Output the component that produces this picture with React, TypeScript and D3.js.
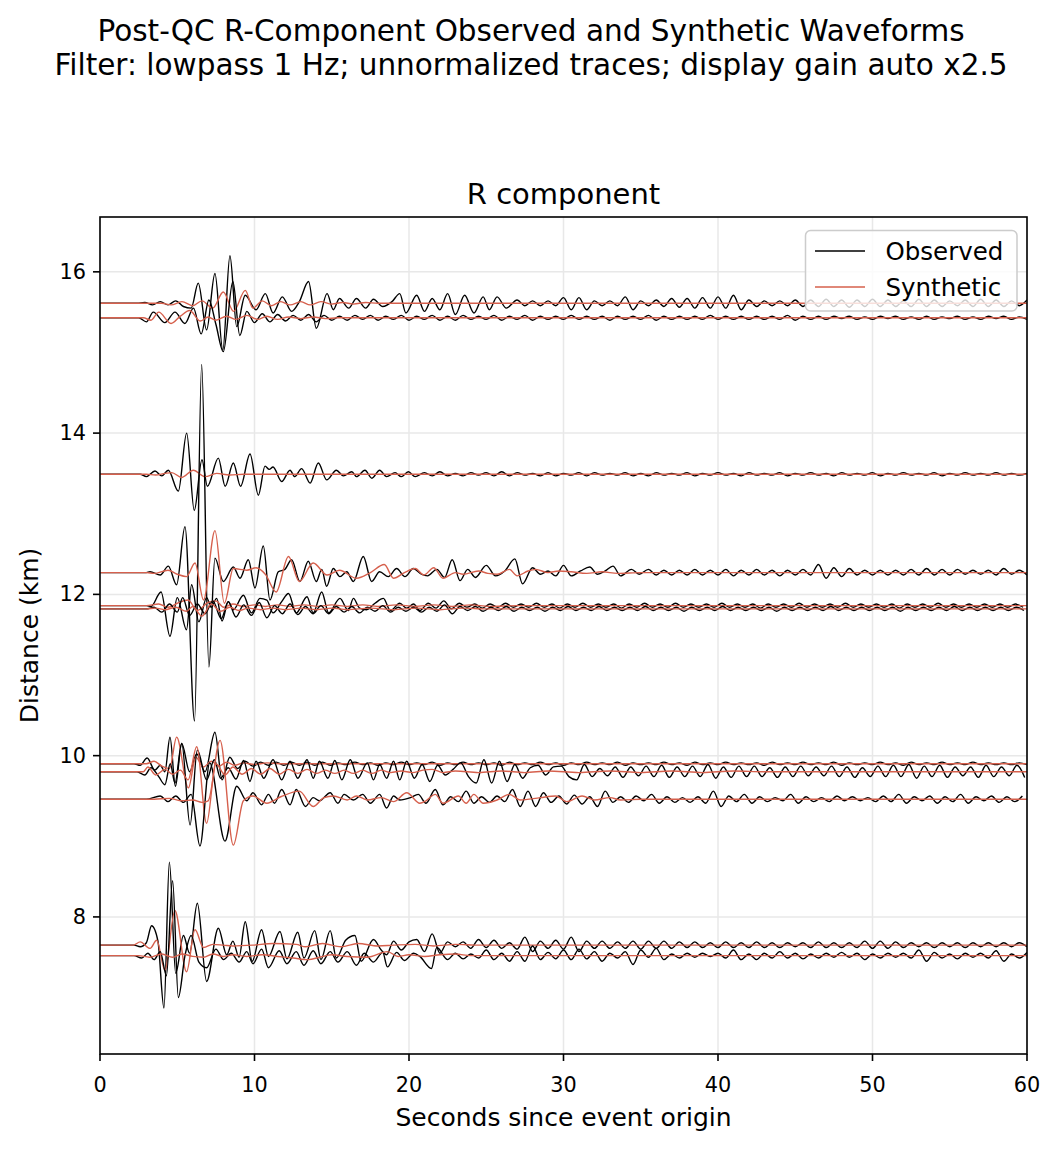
import React from "react";
import * as d3 from "d3";

type Pt = [number, number];

// distances (km) of the trace baselines
const distances = [15.61, 15.43, 13.49, 12.27, 11.86, 11.82, 9.9, 9.8, 9.46, 7.65, 7.52];
const xTicks = [0, 10, 20, 30, 40, 50, 60];
const yTicks = [8, 10, 12, 14, 16];
// amplitudes below are in hundredths of a km, times in seconds

const obs_1561: Pt[] = [[2.4,0],[2.9,1],[3.4,-2],[3.9,2],[4.4,-2],[4.9,3],[5.4,-4],[5.9,-6],[6.36,25],[6.9,-33],[7.44,37],[7.95,-58],[8.41,59],[8.85,-29],[9.4,10],[10.1,-8],[10.7,12],[11.2,-12],[11.8,8],[12.4,-10],[12.9,2],[13.5,27],[14.0,-31],[14.7,12],[15.1,-8],[15.5,6],[16.1,-6],[16.6,6],[17.2,-6],[17.7,5],[18.3,-4],[18.9,2],[19.4,12],[19.8,-12],[20.5,10],[21.0,-10],[21.5,6],[22.0,-8],[22.5,12],[23.0,-14],[23.6,10],[24.2,-12],[24.8,8],[25.2,-8],[25.7,8],[26.3,-6],[27.0,4]];
const coda_1561 = [-3,3,-3,3,-3,7,-8,7,-8,3,-3,3,-3,8,-8,3,-3,4,-4,6,-5,6,-6,7,-6,8,-6,10,-8,4,-4,3,-3,3,-3,4,-4,4,-4,5,-4,4,-5,4,-4,5,-4,4,-4,3,-4,5,-4,4,-4,3,-3,4,-4,5,-4,4,-4,3,-3,4,-3,3];
const syn_1561: Pt[] = [[4.0,0],[4.6,-2],[5.3,2],[6.0,-3],[6.6,3],[7.3,-6],[7.98,14],[8.65,-10],[9.4,16],[9.9,-6],[10.5,3],[11.1,-3],[11.7,2],[12.3,-2],[13.0,2],[13.6,-2],[14.3,2],[15.0,-1],[15.7,1],[16.4,-1],[17.2,1],[18.0,0],[60,0]];

const obs_1543: Pt[] = [[2.5,0],[3.0,-5],[3.45,7],[4.2,-6],[4.85,7],[5.5,-7],[6.05,12],[6.55,-20],[7.05,22],[7.5,-8],[7.98,-42],[8.6,45],[9.05,-22],[9.5,8],[10.0,-6],[10.5,5],[11.0,-5],[11.5,4],[12.0,-4],[12.5,3],[13.0,-3],[13.5,4],[14.0,-5],[14.5,3],[15.0,-3],[15.5,2],[16.0,-3],[16.5,3],[17.0,-2],[17.5,3],[18.0,-3],[18.5,2],[19.0,-2],[19.5,3],[20.0,-3],[20.5,2],[21.0,-2]];
const coda_1543 = [3,-3,2,-3,3,-2,2,-2,3,-3,2,-2,3,-3,2,-2,2,-2,3,-2,2,-2,2,-3,2,-2,2,-2,3,-3,2,-2,2,-2,2,-2,3,-2,2,-2,2,-2,2,-2,2,-2,3,-3,2,-2,2,-2,2,-1,2,-2,1,-2,2,-1,2,-2,1,-2,2,-2,1,-1,2,-2,1,-2,2,-1,2,-2,1,-2,2,-1];
const syn_1543: Pt[] = [[2.8,0],[3.3,-3],[3.8,7],[4.6,-7],[5.2,2],[5.8,9],[6.5,-4],[7.0,1],[7.5,-3],[8.2,2],[8.8,-2],[9.5,3],[10.2,-2],[10.8,2],[11.5,-2],[12.2,1],[13.0,-1],[13.8,1],[14.6,-1],[15.4,0],[60,0]];

const obs_1349: Pt[] = [[2.6,0],[3.0,-3],[3.56,4],[4.0,-2],[4.42,5],[5.07,-21],[5.61,51],[6.1,-45],[6.6,18],[6.95,-15],[7.66,20],[8.1,-15],[8.63,14],[9.1,-15],[9.71,25],[10.25,-26],[10.68,10],[10.95,6],[11.2,9],[11.76,-9],[12.3,5],[12.6,-3],[13.05,7],[13.6,-11],[14.13,14],[14.67,-7],[15.3,5],[15.75,-2],[16.3,3],[16.6,-3],[17.15,5],[17.6,-5],[18.1,5],[18.55,-3],[19.1,2],[19.5,-3],[19.96,3],[20.4,-3],[21.0,2]];
const coda_1349 = [-2,3,-2,1,-2,2,-1,2,-2,3,-2,2,-1,1,-2,2,-2,1,-1,2,-2,2,-1,1,-1,2,-2,1,-2,2,-1,1,-1,2,-2,1,-1,2,-1,1,-2,2,-1,1,-1,2,-2,1,-1,2,-1,1,-2,2,-1,1,-1,2,-2,1,-1,2,-1,1,-1,2,-2,1,-1,2,-1,1,-1,2,-1,1,-1,1,-1,1];
const syn_1349: Pt[] = [[3.0,0],[3.6,-1],[4.2,1],[4.64,2],[5.29,-4],[6.04,5],[6.8,-3],[7.55,1],[8.4,-1],[9.3,0],[60,0]];

const obs_1227: Pt[] = [[3.0,0],[3.24,1],[3.9,-3],[4.42,8],[4.96,-15],[5.5,57],[6.12,-184],[6.58,258],[7.05,-117],[7.44,18],[7.98,-11],[8.63,7],[9.06,-7],[9.6,16],[10.03,-19],[10.57,33],[11.0,-34],[11.54,1],[11.97,4],[12.4,16],[12.94,-11],[13.48,14],[14.0,-11],[14.35,4],[14.67,-17],[15.1,5],[15.53,-5],[15.97,1],[16.4,-11],[17.04,20],[17.58,-11],[18.1,1],[18.66,-5],[19.2,5],[19.74,-5],[20.28,5],[20.8,-2],[21.2,-4],[21.8,4],[22.3,-6],[22.8,16],[23.3,-10],[23.8,4],[24.3,-6],[25.0,9],[25.6,-4],[26.2,2],[26.85,17],[27.35,-14],[28.0,6],[28.5,-2],[29.0,2],[29.5,-4],[30.0,9],[30.5,-4],[31.1,2],[31.7,7],[32.2,-2],[32.7,2],[33.2,8],[33.7,-4],[34.4,4],[34.9,-2]];
const coda_1227 = [4,-3,3,-3,3,-3,4,-3,3,-3,4,-4,3,-3,4,-3,3,-4,3,-3,4,-3,10,-7,6,-5,5,-3,3,-3,3,-3,3,-3,4,-3,5,-3,4,-3,4,-2,3,-2,3,-3,5,-2,3,-3,2];
const syn_1227: Pt[] = [[3.0,0],[3.5,-1],[4.4,3],[5.0,-2],[5.6,-5],[6.15,12],[6.7,-34],[7.44,52],[8.05,-38],[8.63,5],[9.5,3],[10.1,6],[10.7,-2],[11.4,-24],[12.2,20],[12.9,-11],[13.8,12],[14.7,-3],[15.5,3],[16.6,-7],[17.5,0],[18.4,10],[19.0,-7],[19.7,0],[20.4,5],[20.96,-3],[21.6,6],[22.2,-7],[23.0,0],[23.5,-2],[24.5,2],[25.1,-1],[25.7,-2],[26.5,4],[27.0,-4],[27.7,2],[28.2,4],[29.0,0],[29.7,2],[30.5,1],[31.5,-1],[32.5,1],[33.5,-1],[35,0],[60,0]];

const obs_1186: Pt[] = [[3.0,0],[3.3,-1],[3.95,17],[4.53,-38],[5.0,10],[5.6,-30],[5.93,26],[6.4,-20],[6.9,10],[7.2,-2],[7.55,9],[7.9,-19],[8.3,5],[8.63,-5],[9.28,13],[9.8,-9],[10.35,9],[10.8,7],[11.2,-9],[11.76,5],[12.2,15],[12.7,-9],[13.4,11],[13.8,-9],[14.35,17],[14.8,-9],[15.53,9],[16.07,-6],[16.4,9],[16.8,-3],[17.26,-5],[17.8,3],[18.34,9],[18.8,-6],[19.4,3],[19.85,-3],[20.3,2],[20.7,-6],[21.25,3]];
const coda_1186 = [-3,6,-4,3,-2,2,-3,2,-2,3,-2,2,-2,3,-2,2,-3,2,-2,3,-2,2,-2,2,-3,2,-2,3,-2,2,-2,3,-2,2,-2,2,-2,3,-2,2,-2,2,-3,2,-2,2,-2,3,-2,2,-2,2,-2,3,-2,2,-2,2,-2,2,-3,2,-2,2,-2,3,-2,2,-2,2,-2,2,-2,2,-2,2,-2,2];
const syn_1186: Pt[] = [[3.0,0],[3.8,2],[4.4,-2],[5.0,3],[5.7,7],[6.3,-6],[7.0,4],[7.5,6],[8.0,-2],[8.6,2],[9.3,-1],[10,1],[10.7,-1],[11.5,1],[12.3,-1],[13.2,1],[14.1,-1],[15,1],[16,-1],[17,1],[18,-1],[19.2,1],[20.4,-1],[21.6,1],[22.8,-1],[24,1],[25.2,-1],[27,0],[60,0]];

const obs_1182: Pt[] = [[3.0,0],[3.5,2],[4.0,-4],[4.5,6],[5.0,-4],[5.35,14],[5.8,-8],[6.3,6],[6.8,-6],[7.3,10],[7.85,-12],[8.3,9],[8.8,-10],[9.3,5],[9.8,-8],[10.3,8],[10.8,-11],[11.3,4],[11.8,-6],[12.3,6],[12.8,-7],[13.3,3],[13.8,-6],[14.3,4],[14.8,-6],[15.3,3],[15.8,-4],[16.3,3],[16.8,-5],[17.3,2],[17.8,-3],[18.3,4],[18.8,-4],[19.3,2],[19.8,-3],[20.3,2],[20.8,-4],[21.3,2]];
const coda_1182 = [-3,5,-6,3,-2,3,-3,2,-2,3,-3,2,-2,2,-3,2,-2,3,-2,2,-2,3,-2,2,-2,2,-2,3,-2,2,-2,2,-3,2,-2,2,-2,3,-2,2,-2,2,-2,2,-3,2,-2,2,-2,2,-2,3,-2,2,-2,2,-2,2,-2,2,-3,2,-2,2,-2,2,-2,3,-2,2,-2,2,-2,2,-2,2,-2,2];
const syn_1182: Pt[] = [[3.0,0],[3.6,1],[4.2,-1],[4.9,2],[5.6,-3],[6.0,3],[6.6,-9],[7.2,6],[7.8,-3],[8.4,2],[9.0,-2],[9.6,1],[10.4,-1],[11.2,1],[12,-1],[13,1],[14,-1],[15,1],[16,-1],[17.5,1],[19,-1],[20.5,1],[22,-1],[23.5,1],[25,0],[60,0]];

const obs_990: Pt[] = [[2.2,0],[2.6,-2],[3.05,7],[3.55,-8],[3.9,-2],[4.2,-10],[4.53,33],[4.88,-28],[5.29,25],[5.8,-10],[6.26,12],[6.8,-10],[7.44,39],[7.9,-20],[8.4,8],[8.9,-6],[9.4,3],[9.9,-3],[10.4,2],[10.9,-2],[11.4,2],[11.9,-2],[12.4,2],[12.9,-2],[13.4,2],[13.9,-2],[14.4,2],[14.9,-2],[15.4,1],[15.9,-1]];
const coda_990 = [2,-1,1,-2,1,-1,2,-1,1,-1,2,-2,1,-1,2,-1,1,-1,1,-2,2,-1,1,-1,2,-1,1,-2,1,-1,2,-1,1,-1,2,-2,1,-1,1,-1,2,-1,1,-2,2,-1,1,-1,2,-1,1,-1,1,-2,2,-1,1,-1,2,-1,1,-1,2,-2,1,-1,1,-1,2,-1,1,-2,2,-1,1,-1,2,-1,1,-1,2,-1,1,-1,1,-1,1,-1];
const syn_990: Pt[] = [[3.0,0],[3.5,3],[4.0,-3],[4.5,-6],[4.96,33],[5.72,-30],[6.2,8],[6.7,-4],[7.2,3],[7.7,-3],[8.2,2],[8.7,-2],[9.3,1],[10,-1],[10.8,1],[11.6,0],[60,0]];

const obs_980: Pt[] = [[2.4,0],[2.9,-4],[3.3,5],[3.8,-6],[4.2,-16],[4.55,10],[4.85,-14],[5.29,35],[5.83,-66],[6.3,27],[6.9,-10],[7.4,15],[7.8,-8],[8.3,5],[8.8,-9],[9.3,14],[9.7,-12],[10.1,13],[10.6,-8],[11.2,15],[11.76,-10],[12.3,13],[12.8,-8],[13.4,15],[13.8,-8],[14.2,13],[14.75,-8],[15.2,14],[15.65,-10],[16.2,15],[16.7,-8],[17.3,11],[17.7,-10],[18.1,9],[18.55,-8],[19.0,13],[19.4,-10],[19.85,13],[20.35,-8]];
const coda_980 = [9,-12,8,-4,3,11,-6,-14,15,-14,13,-12,9,-8,5,8,-4,6,7,-6,-10,9,-6,4,-5,6,-7,6,-5,7,-6,8,-7,6,-6,7,-6,9,-8,6,-7,7,-6,7,-6,5,-7,6,-6,7,-5,6,-5,7,-6,6,-7,5,-6,7,-6,8,-6,9,-8,7,-6,8,-7,6,-5,6,-7,8,-6,6,-5,8,-7,6];
const syn_980: Pt[] = [[2.8,0],[3.1,6],[3.6,-4],[4.2,3],[4.7,-3],[5.2,2],[5.7,-10],[6.26,31],[6.9,-64],[7.5,10],[8.1,-4],[8.6,6],[9.2,-3],[9.8,4],[10.4,-3],[11.0,4],[11.6,-3],[12.2,3],[12.8,-2],[13.4,3],[14,-2],[14.6,2],[15.2,-2],[15.8,2],[16.4,-2],[17,2],[17.6,-2],[18.2,2],[18.8,-1],[19.5,1],[20.2,-1],[20.9,2],[21.5,3],[22.2,-1],[23,1],[24.5,-1],[26,1],[27.5,-1],[29,1],[31,-1],[33,1],[35,-1],[37,1],[39,-1],[41,1],[43,0],[60,0]];

const obs_946: Pt[] = [[3.0,0],[3.9,4],[4.4,-3],[4.9,4],[5.4,-4],[5.9,6],[6.47,-58],[7.1,45],[8.09,-52],[8.85,16],[9.5,-2],[9.9,8],[10.46,-7],[10.9,6],[11.3,-5],[11.76,12],[12.3,-7],[12.7,12],[13.3,-9],[13.8,2],[14.2,-2],[14.9,8],[15.4,-5],[15.8,6],[16.4,-1],[17.0,6],[17.5,-5],[18.1,6],[18.55,-11],[19.0,4],[19.4,-1],[20.1,2],[20.6,6],[21.1,-5]];
const coda_946 = [12,-7,3,-3,10,-5,3,-4,4,-3,12,-9,10,-9,8,-4,4,-6,5,-6,3,-9,10,-4,3,-4,4,-2,6,-5,3,-4,2,-4,3,-5,10,-9,4,-3,6,-5,3,-3,2,-2,6,-5,3,-3,2,-3,4,-2,3,-2,2,-3,4,-3,6,-5,3,-2,4,-5,3,-3,6,-5,3,-2,4,-4,3,-3,4,-3];
const syn_946: Pt[] = [[3.5,0],[4.5,1],[5.3,-2],[6.0,-1],[6.6,-4],[7.0,-2],[7.77,73],[8.63,-57],[9.28,-2],[9.9,4],[10.8,-5],[11.7,3],[12.9,10],[13.8,-9],[14.5,2],[15.1,4],[16.0,-1],[16.6,4],[17.3,-1],[18.2,2],[19.0,-3],[19.85,8],[20.7,-5],[21.1,-2],[21.7,6],[22.2,-5],[23.2,4],[23.7,-5],[24.2,6],[24.8,-5],[25.7,-1],[26.5,6],[27.2,-1],[28.5,2],[29.5,4],[30.2,-3],[31.2,4],[32.0,-1],[33.0,2],[33.7,-1],[35,0],[60,0]];

const obs_765: Pt[] = [[2.2,0],[2.6,-2],[3.0,3],[3.34,24],[3.75,5],[4.14,-78],[4.49,103],[4.9,-35],[5.4,12],[5.8,-10],[6.3,52],[6.9,-45],[7.66,21],[8.2,-12],[8.6,5],[9.0,-15],[9.4,29],[9.85,-20],[10.46,19],[10.9,-14],[11.65,17],[12.1,-17],[12.8,16],[13.2,-16],[13.9,18],[14.3,-18],[14.9,18],[15.3,-16],[15.9,6],[16.5,12],[16.9,-20],[17.7,7],[18.2,-6],[18.55,-12],[19.0,5],[19.5,-6],[20.0,4],[20.5,7],[21.0,-8],[21.5,14]];
const coda_765 = [-10,4,-2,4,-4,7,-3,6,-4,3,-5,10,-8,5,-4,6,-5,10,-8,5,-4,5,-4,4,-4,5,-5,5,-4,5,-4,4,-3,4,-3,3,-3,4,-3,3,-3,4,-3,3,-3,3,-2,3,-3,4,-3,3,-3,3,-3,5,-4,5,-4,4,-3,3,-2,3,-3,3,-2,3,-3,3,-2,3,-2,3,-2,3,-2,3];
const syn_765: Pt[] = [[2.16,0],[2.6,4],[3.24,-4],[3.67,6],[4.2,-31],[4.85,43],[5.6,-33],[6.15,19],[6.7,-3],[7.3,1],[8.0,0],[8.6,-1],[9.9,0],[11.2,2],[12.7,1],[13.3,-2],[14.4,2],[15.6,-2],[16.7,2],[18.0,-1],[19.0,0],[20.4,1],[21.6,-1],[23,1],[24.5,0],[60,0]];

const obs_752: Pt[] = [[2.2,0],[2.7,-3],[3.1,3],[3.5,-5],[3.9,5],[4.3,-25],[4.7,93],[5.07,-52],[5.5,0],[5.9,25],[6.4,-8],[6.9,-15],[7.5,8],[8.0,-5],[8.5,3],[9.0,-8],[9.5,5],[9.9,-10],[10.46,8],[10.9,-15],[11.6,6],[12.1,-10],[12.7,5],[13.2,-12],[13.8,6],[14.3,-10],[14.9,5],[15.4,-8],[16.0,5],[16.6,-12],[17.1,3],[17.7,-8],[18.3,4],[18.6,-14],[19.2,4],[19.7,-6],[20.3,3],[20.7,-1],[21.45,-16],[21.8,10]];
const coda_752 = [-5,3,-4,2,-3,7,-5,3,-7,5,-7,12,-5,4,-4,7,-5,8,-4,5,-7,3,-3,5,-11,7,-2,9,-5,2,-3,3,-2,3,-1,3,-3,7,-5,2,-5,3,-3,5,-3,3,-4,2,-3,3,-2,4,-2,3,-5,2,-3,3,-2,3,-3,7,-7,4,-3,2,-4,3,-2,3,-3,6,-7,2,-3,4,-7,5];
const syn_752: Pt[] = [[2.5,0],[3.2,-2],[4.0,2],[4.7,-2],[5.3,2],[6.0,-1],[6.7,-2],[7.3,2],[8.0,-1],[8.6,1],[9.5,-1],[10.5,1],[11.5,-1],[12.5,-3],[13.5,-5],[14.2,-2],[15.0,1],[16.0,-1],[17.3,-2],[18.6,5],[19.3,-1],[20.0,1],[21.0,-1],[22.0,1],[23.0,2],[24.0,0],[60,0]];

const obsEarly = [obs_1561, obs_1543, obs_1349, obs_1227, obs_1186, obs_1182, obs_990, obs_980, obs_946, obs_765, obs_752];
const codaStarts = [27.5, 21.5, 21.5, 35.5, 21.75, 21.8, 16.5, 20.85, 21.7, 22.0, 22.5];
const codas = [coda_1561, coda_1543, coda_1349, coda_1227, coda_1186, coda_1182, coda_990, coda_980, coda_946, coda_765, coda_752];
const syns = [syn_1561, syn_1543, syn_1349, syn_1227, syn_1186, syn_1182, syn_990, syn_980, syn_946, syn_765, syn_752];

const W = 1062;
const H = 1149;
const L = 100, R = 1027, T = 217, B = 1054;
const FONT = "DejaVu Sans, sans-serif";
const RED = "#d6604d";

const x = d3.scaleLinear().domain([0, 60]).range([L, R]);
const y = d3.scaleLinear().domain([6.3, 16.68]).range([B, T]);

function toKm(dist: number, pts: Pt[]): Pt[] {
  const out: Pt[] = [];
  if (pts[0][0] > 0) out.push([0, dist]);
  pts.forEach(([t, a]) => out.push([t, dist + a / 100]));
  return out;
}
function withCoda(early: Pt[], start: number, coda: number[]): Pt[] {
  const pts: Pt[] = early.slice();
  coda.forEach((a, i) => {
    const t = start + i * 0.5;
    if (t <= 60) pts.push([t, a]);
  });
  return pts;
}

const line = d3
  .line<Pt>()
  .x((d) => x(d[0]))
  .y((d) => y(d[1]))
  .curve(d3.curveMonotoneX);

export default function App() {
  const traces = distances.map((dist, i) => ({
    obs: line(toKm(dist, withCoda(obsEarly[i], codaStarts[i], codas[i]))) || "",
    syn: line(toKm(dist, syns[i])) || "",
  }));
  return (
    <svg width={W} height={H} style={{ position: "absolute", left: 0, top: 0, background: "#fff" }} fontFamily={FONT}>
      <rect x={0} y={0} width={W} height={H} fill="#fff" />
      <text x={531} y={41} fontSize={29.5} textAnchor="middle" fill="#000">Post-QC R-Component Observed and Synthetic Waveforms</text>
      <text x={531} y={75} fontSize={29.5} textAnchor="middle" fill="#000">Filter: lowpass 1 Hz; unnormalized traces; display gain auto x2.5</text>
      <text x={(L + R) / 2} y={204} fontSize={29} textAnchor="middle" fill="#000">R component</text>
      <defs>
        <clipPath id="plotclip">
          <rect x={L} y={T} width={R - L} height={B - T} />
        </clipPath>
      </defs>
      {xTicks.map((t) => (
        <line key={"gx" + t} x1={x(t)} x2={x(t)} y1={T} y2={B} stroke="#e8e8e8" strokeWidth={1.5} />
      ))}
      {yTicks.map((v) => (
        <line key={"gy" + v} x1={L} x2={R} y1={y(v)} y2={y(v)} stroke="#e8e8e8" strokeWidth={1.5} />
      ))}
      <g clipPath="url(#plotclip)" fill="none">
        {traces.map((tr, i) => (
          <g key={"tr" + i}>
            <path d={tr.obs} stroke="#000" strokeWidth={1.4} strokeLinejoin="round" />
            <path d={tr.syn} stroke={RED} strokeWidth={1.4} strokeLinejoin="round" />
          </g>
        ))}
      </g>
      <rect x={L} y={T} width={R - L} height={B - T} fill="none" stroke="#000" strokeWidth={1.6} />
      {xTicks.map((t) => (
        <g key={"xt" + t}>
          <line x1={x(t)} x2={x(t)} y1={B} y2={B + 7} stroke="#000" strokeWidth={1.6} />
          <text x={x(t)} y={1092} fontSize={20.8} textAnchor="middle" fill="#000">{t}</text>
        </g>
      ))}
      {yTicks.map((v) => (
        <g key={"yt" + v}>
          <line x1={L - 7} x2={L} y1={y(v)} y2={y(v)} stroke="#000" strokeWidth={1.6} />
          <text x={86} y={y(v)} fontSize={20.8} textAnchor="end" dominantBaseline="central" fill="#000">{v}</text>
        </g>
      ))}
      <text x={(L + R) / 2} y={1126} fontSize={25} textAnchor="middle" fill="#000">Seconds since event origin</text>
      <text transform={`translate(38,${(T + B) / 2}) rotate(-90)`} fontSize={25} textAnchor="middle" fill="#000">Distance (km)</text>
      <g>
        <rect x={805.5} y={230.5} width={211.5} height={80.5} rx={5} fill="#fff" fillOpacity={0.8} stroke="#cccccc" strokeWidth={1.5} />
        <line x1={815} x2={865} y1={251} y2={251} stroke="#000" strokeWidth={1.4} />
        <text x={885.5} y={259.5} fontSize={24.5} fill="#000">Observed</text>
        <line x1={815} x2={865} y1={287} y2={287} stroke={RED} strokeWidth={1.4} />
        <text x={885.5} y={295.5} fontSize={24.5} fill="#000">Synthetic</text>
      </g>
    </svg>
  );
}
